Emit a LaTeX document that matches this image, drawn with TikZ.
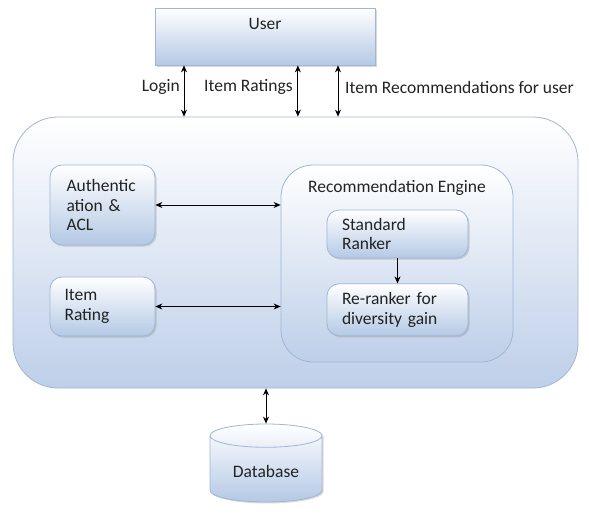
\documentclass[tikz,border=0pt]{standalone}
\usepackage{fontspec}
\setmainfont{Carlito}
\usepackage{tikz}
\usetikzlibrary{shapes.geometric, arrows.meta, positioning, calc, shadows}
\definecolor{boxline}{RGB}{160,182,212}
\definecolor{boxblue}{RGB}{180,201,229}
\definecolor{mainblue}{RGB}{190,207,233}
\definecolor{txtgray}{RGB}{35,35,35}
\tikzset{every node/.append style={align=center, text=txtgray}}
\tikzset{
  outer/.style={rectangle, draw=boxline, thick, rounded corners=45pt,
    top color=white, bottom color=mainblue},
  eng/.style={rectangle, draw=boxline, thick, rounded corners=32pt,
    top color=white, bottom color=mainblue!90!boxblue},
  usr/.style={rectangle, draw=boxline, thick,
    top color=white, bottom color=boxblue,
    drop shadow={shadow xshift=1.5pt, shadow yshift=-1.5pt, opacity=0.3}},
  blk/.style={rectangle, draw=boxline, thick, rounded corners=12pt,
    top color=white, bottom color=boxblue, align=left, inner xsep=0pt,
    drop shadow={shadow xshift=1.5pt, shadow yshift=-1.5pt, opacity=0.3}},
  db/.style={cylinder, shape border rotate=90, aspect=0.32, draw=boxline, thick,
    top color=white, bottom color=boxblue, minimum width=112pt, minimum height=78pt,
    drop shadow={shadow xshift=1.5pt, shadow yshift=-1.5pt, opacity=0.3}},
  lbl/.style={inner sep=0pt},
  arrow/.style={{Stealth[length=7pt,width=6pt]}-{Stealth[length=7pt,width=6pt]}, thick, black},
  onearrow/.style={-{Stealth[length=7pt,width=6pt]}, thick, black}
}
\begin{document}
\begin{tikzpicture}[x=1pt, y=-1pt, font=\fontsize{17.5}{19.5}\selectfont]
  \useasboundingbox (0,0) rectangle (589,514);
  % user and the main system
  \node[usr, minimum width=220pt, minimum height=57pt] (user) at (265,36.5) {};
  \node[lbl, below=10pt of user.north] (usertxt) {User};
  \node[outer, minimum width=565pt, minimum height=271pt] (main) at (295.5,252.5) {};
  % inner blocks
  \node[blk, minimum width=105pt, minimum height=80pt, text width=72pt] (auth) at (102.5,205)
    {Authentic\\ation \&\\ACL};
  \node[blk, minimum width=105pt, minimum height=59pt, text width=76pt] (rate) at (102.5,306.5)
    {Item\\Rating};
  \node[eng, minimum width=232pt, minimum height=197pt] (engine) at (397,263.5) {};
  \node[lbl, below=16pt of engine.north] (engtxt) {Recommendation Engine};
  \node[blk, minimum width=141pt, minimum height=48pt, text width=111pt] (rank) at (397.5,234)
    {Standard\\Ranker};
  \node[blk, minimum width=141pt, minimum height=52pt, text width=111pt, below=25pt of rank] (rerank)
    {Re-ranker for\\diversity gain};
  \node[db] (base) at (266,471) {Database};
  % labels of the user links
  \node[lbl, anchor=east] (lgn) at (180,87) {Login};
  \node[lbl, anchor=west] (irt) at (204,87) {Item Ratings};
  \node[lbl, anchor=west] (irec) at (345,87) {Item Recommendations for user};
  % connectors
  \draw[arrow] ([xshift=4pt]lgn.east |- user.south) -- ([xshift=4pt]lgn.east |- main.north);
  \draw[arrow] ([xshift=5pt]irt.east |- user.south) -- ([xshift=5pt]irt.east |- main.north);
  \draw[arrow] ([xshift=-7pt]irec.west |- user.south) -- ([xshift=-7pt]irec.west |- main.north);
  \draw[arrow] (auth.east) -- (auth.east -| engine.west);
  \draw[arrow] (rate.east) -- (rate.east -| engine.west);
  \draw[onearrow] (rank) -- (rerank);
  \draw[arrow] (base.north |- main.south) -- (base.north);
\end{tikzpicture}
\end{document}
